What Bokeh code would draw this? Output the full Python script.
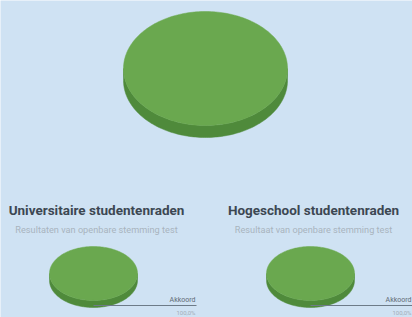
import numpy as np
from bokeh.plotting import figure
from bokeh.models import Range1d
from bokeh.core.properties import value
from bokeh.embed import file_html
from bokeh.resources import INLINE

# Data
categories = ["Akkoord"]
top_values = [100.0]
uni_values = [100.0]
hbo_values = [100.0]
uni_title = "Universitaire studentenraden"
uni_subtitle = "Resultaten van openbare stemming test"
hbo_title = "Hogeschool studentenraden"
hbo_subtitle = "Resultaat van openbare stemming test"
pct_labels_uni = ["100,0%"]
pct_labels_hbo = ["100,0%"]

BG = "#cfe2f3"
TOP = "#6aa84f"
SIDE = "#4f8a3b"

p = figure(width=412, height=317, x_range=Range1d(0, 412), y_range=Range1d(317, 0),
           output_backend="svg", toolbar_location=None, min_border=0)
p.axis.visible = False
p.grid.visible = False
p.outline_line_color = None
p.background_fill_color = BG
p.border_fill_color = BG


def draw_pie(vals, cx, cy, rx, ry, depth, colors_top, colors_side):
    total = float(sum(vals))
    start = 0.0
    t = np.linspace(0, np.pi, 120)
    xs = list(cx + rx * np.cos(t)) + list(cx + rx * np.cos(t[::-1]))
    ys = list(cy + depth + ry * np.sin(t)) + list(cy + ry * np.sin(t[::-1]))
    p.patch(xs, ys, fill_color=colors_side[0], line_color=colors_side[0], line_width=0.5)
    for i, v in enumerate(vals):
        ang = 2 * np.pi * v / total
        tt = np.linspace(start, start + ang, 240)
        if ang >= 2 * np.pi - 1e-9:
            px = list(cx + rx * np.cos(tt))
            py = list(cy + ry * np.sin(tt))
        else:
            px = [cx] + list(cx + rx * np.cos(tt))
            py = [cy] + list(cy + ry * np.sin(tt))
        p.patch(px, py, fill_color=colors_top[i], line_color=colors_top[i], line_width=0.5)
        start += ang


draw_pie(top_values, 205, 68, 82, 57, 12, [TOP], [SIDE])
draw_pie(uni_values, 93, 273, 44, 27, 7, [TOP], [SIDE])
draw_pie(hbo_values, 310, 273, 44, 27, 7, [TOP], [SIDE])

# leader lines and labels
for cx, xend, cats, pcts in [(93, 196, categories, pct_labels_uni), (310, 412, categories, pct_labels_hbo)]:
    p.line([cx, xend], [305, 305], line_color="#6d7b88", line_width=1)
    p.text(x=[xend - 1], y=[303], text=cats, text_font=value("Roboto"), text_font_size="7px",
           text_color="#5f6b76", text_align="right", text_baseline="bottom")
    p.text(x=[xend - 1], y=[308], text=pcts, text_font=value("Roboto"), text_font_size="6px",
           text_color="#a3adb7", text_align="right", text_baseline="top")

# titles
for cx, t, s in [(96, uni_title, uni_subtitle), (313, hbo_title, hbo_subtitle)]:
    p.text(x=[cx], y=[209], text=[t], text_font=value("Roboto"), text_font_size="13.5px",
           text_font_style="bold", text_color="#3c4752", text_align="center", text_baseline="middle")
    p.text(x=[cx], y=[229], text=[s], text_font=value("Roboto"), text_font_size="9.2px",
           text_color="#a9b4be", text_align="center", text_baseline="middle")

open("out.html", "w").write(file_html(p, INLINE))
